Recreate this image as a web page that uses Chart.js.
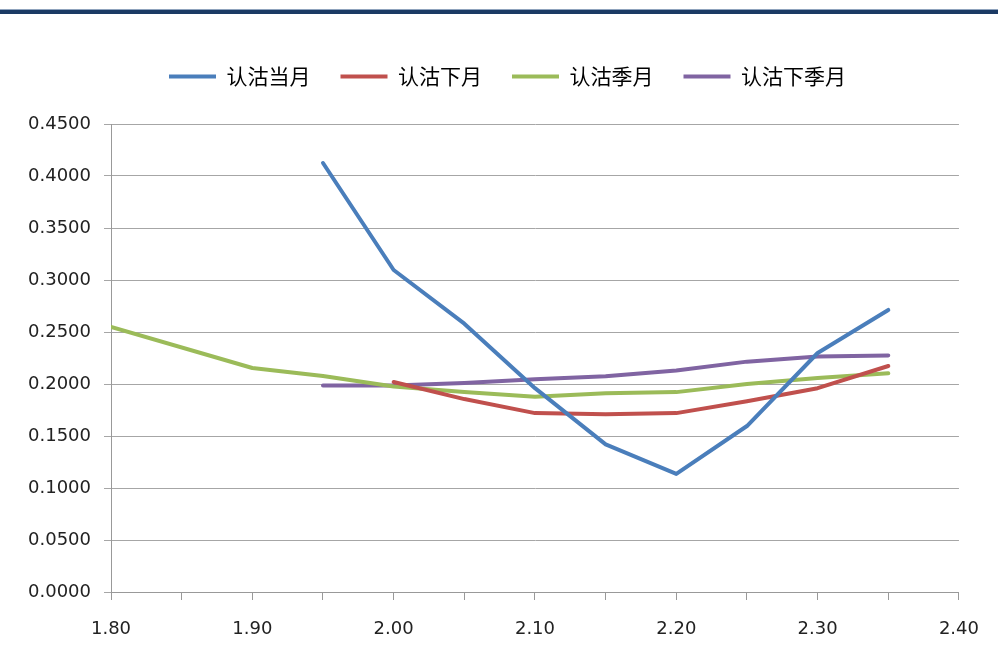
<!DOCTYPE html>
<html>
<head>
<meta charset="utf-8">
<script src="https://cdn.jsdelivr.net/npm/chart.js@4.4.1/dist/chart.umd.min.js"></script>
<style>
  html, body { margin: 0; padding: 0; background: #fff; }
  #wrap { position: relative; width: 998px; height: 657px; }
  #topbar { position: absolute; left: 0; top: 9px; width: 998px; height: 4px;
            background: #1B3A64; border-top: 1px solid #8fa3bd; }
</style>
</head>
<body>
<div id="wrap">
  <canvas id="myChart" width="998" height="657"></canvas>
  <div id="topbar"></div>
</div>
<script>
// 行权价
const strikes = [1.80, 1.85, 1.90, 1.95, 2.00, 2.05, 2.10, 2.15, 2.20, 2.25, 2.30, 2.35];

const putThisMonth   = [null, null, null, 0.4125, 0.3096, 0.2580, 0.1960, 0.1420, 0.1135, 0.1596, 0.2298, 0.2712];
const putNextMonth   = [null, null, null, null, 0.2019, 0.1855, 0.1720, 0.1710, 0.1720, 0.1835, 0.1960, 0.2173];
const putQuarter     = [0.2550, null, 0.2154, 0.2077, 0.1975, 0.1923, 0.1878, 0.1910, 0.1922, 0.2000, 0.2058, 0.2103];
const putNextQuarter = [null, null, null, 0.1985, 0.1985, 0.2010, 0.2045, 0.2075, 0.2130, 0.2215, 0.2265, 0.2275];

const seriesNames = ['认沽当月', '认沽下月', '认沽季月', '认沽下季月'];
const seriesColors = ['#4A7EBB', '#C0504D', '#9BBB59', '#8064A2'];

function toPoints(values) {
    return strikes.map((x, i) => ({ x: x, y: values[i] })).filter(p => p.y !== null);
}

const allSeries = [putThisMonth, putNextMonth, putQuarter, putNextQuarter];

// extra room under the legend, and nudge it right a bit
const legendGap = {
    id: 'legendGap',
    beforeInit(chart) {
        const fit = chart.legend.fit;
        chart.legend.fit = function () {
            fit.call(this);
            this.height += 27;
        };
    },
    afterLayout(chart) {
        chart.legend.left += 28;
        chart.legend.right += 28;
    }
};

const ctx = document.getElementById('myChart').getContext('2d');
const chart = new Chart(ctx, {
    type: 'line',
    data: {
        datasets: allSeries.map((vals, i) => ({
            label: seriesNames[i],
            data: toPoints(vals),
            borderColor: seriesColors[i],
            backgroundColor: seriesColors[i],
            borderWidth: 4,
            pointRadius: 0,
            tension: 0,
            borderJoinStyle: 'round',
            borderCapStyle: 'round'
        }))
    },
    options: {
        responsive: false,
        animation: false,
        layout: { padding: { top: 36, right: 39, left: 0, bottom: 0 } },
        plugins: {
            legend: {
                position: 'top',
                labels: {
                    boxWidth: 47,
                    boxHeight: 4,
                    padding: 30,
                    color: '#000',
                    font: { family: '"Noto Sans CJK SC", sans-serif', size: 21 },
                    generateLabels: (c) => Chart.defaults.plugins.legend.labels.generateLabels(c)
                        .map(l => ({ ...l, lineWidth: 0 }))
                }
            },
            tooltip: { enabled: false }
        },
        scales: {
            x: {
                type: 'linear',
                min: 1.8,
                max: 2.4,
                afterFit: (s) => { s.height = 65; },
                border: { color: '#999', width: 1 },
                grid: { drawOnChartArea: false, tickLength: 8, color: '#999' },
                ticks: {
                    stepSize: 0.05,
                    padding: 19,
                    maxRotation: 0,
                    autoSkip: false,
                    color: '#222',
                    font: { family: '"DejaVu Sans", sans-serif', size: 18 },
                    callback: (v) => {
                        const r = Math.round(v * 100);
                        return r % 10 === 0 ? (r / 100).toFixed(2) : '';
                    }
                }
            },
            y: {
                min: 0,
                max: 0.45,
                afterFit: (s) => { s.width = 111; },
                border: { color: '#999', width: 1 },
                grid: { color: '#a6a6a6', tickLength: 7 },
                ticks: {
                    stepSize: 0.05,
                    padding: 13,
                    color: '#222',
                    font: { family: '"DejaVu Sans", sans-serif', size: 18 },
                    callback: (v) => v.toFixed(4)
                }
            }
        }
    },
    plugins: [legendGap]
});
</script>
</body>
</html>
